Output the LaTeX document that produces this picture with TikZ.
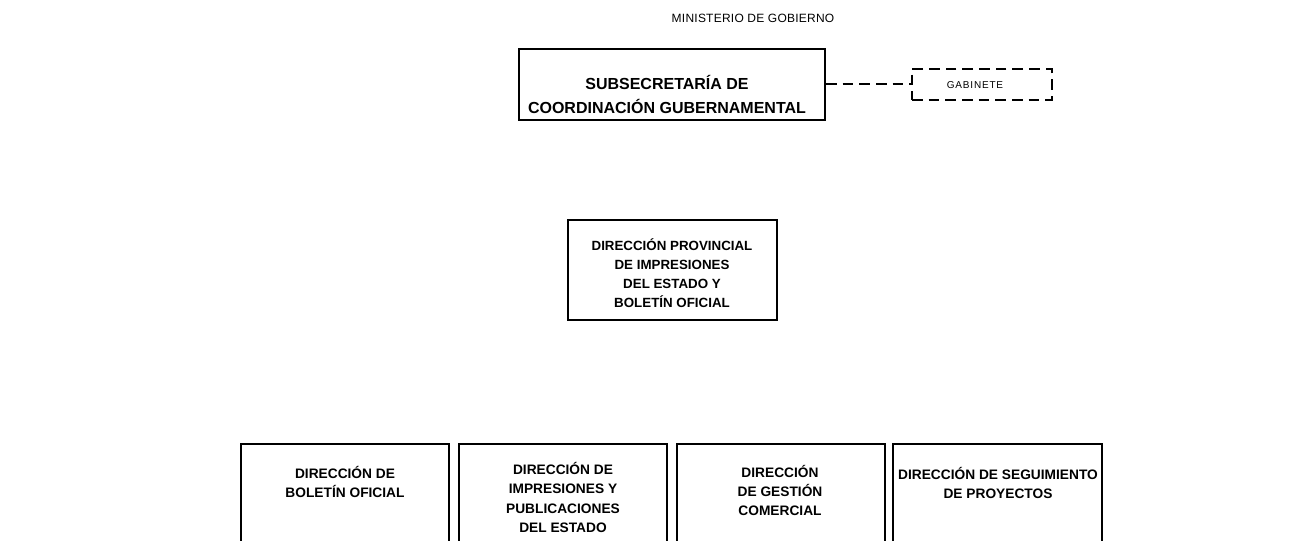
\documentclass[tikz,border=0pt]{standalone}
\usepackage{fontspec}
\setmainfont{Liberation Sans}
\begin{document}
\begin{tikzpicture}[x=0.75pt,y=-0.75pt,
  boxst/.style={draw, line width=1.5pt, inner sep=0pt},
  dbox/.style={draw, line width=1.5pt, inner sep=0pt, dash pattern=on 8pt off 4.5pt},
  dline/.style={line width=1.5pt, dash pattern=on 8pt off 4.5pt},
  bigtxt/.style={align=center, inner sep=0pt, font=\fontsize{12}{18}\selectfont\bfseries},
  midtxt/.style={align=center, inner sep=0pt, font=\fontsize{10}{14.25}\selectfont\bfseries},
  lowtxt/.style={align=center, inner sep=0pt, font=\fontsize{10.3}{14.5}\selectfont\bfseries},
  smalltxt/.style={inner sep=0pt, font=\fontsize{9}{10}\selectfont\addfontfeatures{LetterSpace=2}},
  tinytxt/.style={inner sep=0pt, font=\fontsize{7.5}{9}\selectfont\addfontfeatures{LetterSpace=8}}
]
\useasboundingbox (0,0) rectangle (1296,541);
\clip (0,0) rectangle (1296,541);
\fill[white] (0,0) rectangle (1296,541);

% title
\node[smalltxt] (min) at (753,18) {MINISTERIO DE GOBIERNO};

% subsecretaria
\node[boxst, minimum width=229.5pt, minimum height=53.25pt] (sub) at (672,84.5) {};
\node[bigtxt] (subt) at (667,94) {SUBSECRETARÍA DE\\COORDINACIÓN GUBERNAMENTAL};

% gabinete
\node[dbox, minimum width=105pt, minimum height=23.25pt] (gab) at (982,84.5) {};
\node[tinytxt] (gabt) at (975,85) {GABINETE};
\draw[dline] (sub.east) -- (gab.west);

% direccion provincial
\node[boxst, minimum width=156.75pt, minimum height=75pt] (prov) at (672.5,270) {};
\node[midtxt] (provt) at (672,273) {DIRECCIÓN PROVINCIAL\\DE IMPRESIONES\\DEL ESTADO Y\\BOLETÍN OFICIAL};

% bottom boxes
\node[boxst, minimum width=156pt, minimum height=120pt, anchor=north] (b1) at (345,443) {};
\node[boxst, minimum width=156pt, minimum height=120pt, anchor=north] (b2) at (563,443) {};
\node[boxst, minimum width=156pt, minimum height=120pt, anchor=north] (b3) at (780.5,443) {};
\node[boxst, minimum width=156.75pt, minimum height=120pt, anchor=north] (b4) at (997.5,443) {};

\node[lowtxt] (t1) at (345,482) {DIRECCIÓN DE\\BOLETÍN OFICIAL};
\node[lowtxt] (t2) at (563,497.5) {DIRECCIÓN DE\\IMPRESIONES Y\\PUBLICACIONES\\DEL ESTADO};
\node[lowtxt] (t3) at (780,490.5) {DIRECCIÓN\\DE GESTIÓN\\COMERCIAL};
\node[lowtxt] (t4) at (998,483) {DIRECCIÓN DE SEGUIMIENTO\\DE PROYECTOS};
\end{tikzpicture}
\end{document}
